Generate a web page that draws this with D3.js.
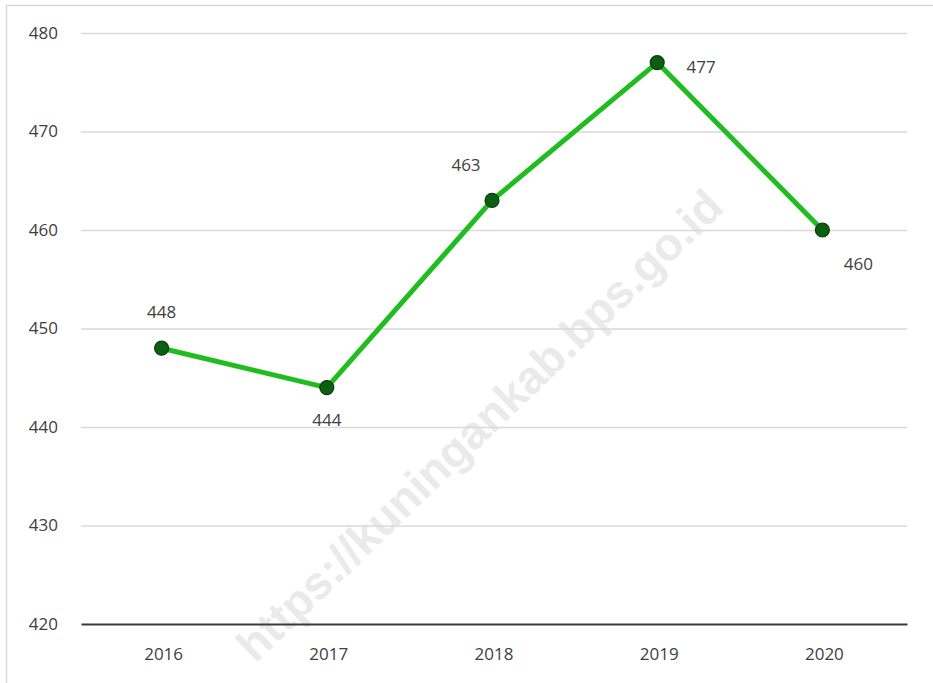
<!DOCTYPE html>
<html>
<head>
<meta charset="utf-8">
<script src="https://cdn.jsdelivr.net/npm/d3@7"></script>
<style>
  html, body { margin: 0; padding: 0; background: #fff; }
  svg { display: block; }
</style>
</head>
<body>
<svg id="chart" width="933" height="683"></svg>
<script>
const years = ["2016", "2017", "2018", "2019", "2020"];
const values = [448, 444, 463, 477, 460];
const yTicks = [420, 430, 440, 450, 460, 470, 480];
const labelPos = ["above", "below", "aboveLeft", "right", "belowRight"];

const svg = d3.select("#chart");
const W = 933, H = 683;
const margin = { left: 81, right: 26, top: 33, bottom: 59 };
const FONT = "'Open Sans', 'Noto Sans', sans-serif";

// frame border (top and left visible)
svg.append("line").attr("x1", 6).attr("x2", W).attr("y1", 5.5).attr("y2", 5.5)
  .attr("stroke", "#d9d9d9").attr("stroke-width", 1.5);
svg.append("line").attr("x1", 6.5).attr("x2", 6.5).attr("y1", 5).attr("y2", H)
  .attr("stroke", "#d9d9d9").attr("stroke-width", 1.5);

const x = d3.scaleBand().domain(years).range([margin.left, W - margin.right]).padding(0);
const y = d3.scaleLinear().domain([420, 480]).range([H - margin.bottom, margin.top]);

// watermark
svg.append("text")
  .attr("transform", "translate(482,428) rotate(-44)")
  .attr("text-anchor", "middle")
  .attr("dominant-baseline", "middle")
  .attr("font-family", "'Liberation Sans', Arial, sans-serif")
  .attr("font-weight", "bold")
  .attr("font-size", 46)
  .attr("fill", "#e3e3e3")
  .attr("fill-opacity", 0.75)
  .text("https://kuningankab.bps.go.id");

// gridlines
const yAxis = d3.axisLeft(y).tickValues(yTicks).tickSize(-(W - margin.left - margin.right)).tickPadding(23);
const gy = svg.append("g").attr("transform", `translate(${margin.left},0)`).call(yAxis);
gy.select(".domain").remove();
gy.selectAll(".tick line").attr("stroke", (d) => d === 420 ? "none" : "#d9d9d9").attr("stroke-width", 1.3);
gy.selectAll(".tick text")
  .attr("font-family", FONT)
  .attr("font-size", 17).attr("fill", "#404040");

// x axis
const xAxis = d3.axisBottom(x).tickSize(0).tickPadding(24);
const gx = svg.append("g").attr("transform", `translate(0,${y(420)})`).call(xAxis);
gx.select(".domain").attr("stroke", "#3a3a3a").attr("stroke-width", 2.2);
gx.selectAll(".tick text")
  .attr("font-family", FONT)
  .attr("font-size", 17).attr("fill", "#404040");

const cx = (d, i) => x(years[i]) + x.bandwidth() / 2 - 2;

// line
const line = d3.line().x((d, i) => cx(d, i)).y(d => y(d));
svg.append("path").datum(values)
  .attr("d", line)
  .attr("fill", "none")
  .attr("stroke", "#1fbd1f")
  .attr("stroke-width", 5)
  .attr("stroke-linejoin", "round");

// markers
svg.selectAll("circle.pt").data(values).join("circle")
  .attr("class", "pt")
  .attr("cx", (d, i) => cx(d, i))
  .attr("cy", d => y(d))
  .attr("r", 7)
  .attr("fill", "#0c5e12")
  .attr("stroke", "#0a3d0c")
  .attr("stroke-width", 1.2);

// data labels
const off = {
  above: [0, -30],
  below: [0, 38],
  aboveLeft: [-26, -29],
  right: [44, 10],
  belowRight: [36, 40]
};
svg.selectAll("text.lbl").data(values).join("text")
  .attr("class", "lbl")
  .attr("x", (d, i) => cx(d, i) + off[labelPos[i]][0])
  .attr("y", (d, i) => y(d) + off[labelPos[i]][1])
  .attr("text-anchor", "middle")
  .attr("font-family", FONT)
  .attr("font-size", 17).attr("fill", "#404040")
  .text(d => d);
</script>
</body>
</html>
